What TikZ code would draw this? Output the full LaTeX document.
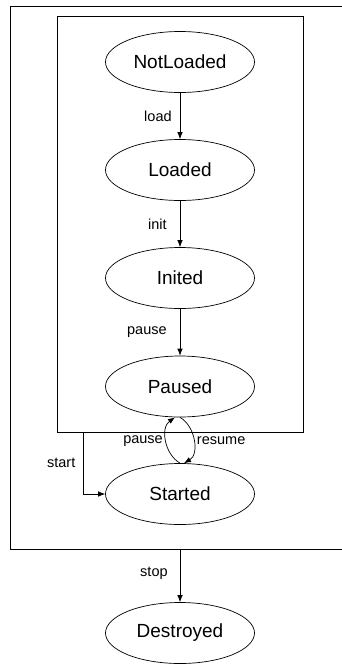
\documentclass[tikz,border=0pt]{standalone}
\usepackage{fontspec}
\setmainfont{Liberation Sans}
\usetikzlibrary{arrows.meta,positioning,shapes.geometric}

\begin{document}
\begin{tikzpicture}[x=1pt,y=1pt,line width=.7pt,
    state/.style={draw,ellipse,minimum width=149pt,minimum height=61pt,inner sep=0pt,font=\fontsize{19}{21}\selectfont},
    frame/.style={draw,rectangle,inner sep=0pt},
    lbl/.style={font=\fontsize{14.5}{16}\selectfont,inner sep=2pt},
    arr/.style={-{Latex[length=7pt,width=5.5pt]}}]
  \useasboundingbox (0,0) rectangle (341,-664);
  \node[frame,minimum width=335pt,minimum height=543pt] (outer) at (178,-277.5) {};
  \node[frame,minimum width=246pt,minimum height=416pt] (inner) at (180,-224) {};
  \node[state] (nl) at (180,-62) {NotLoaded};
  \node[state] (ld) at (180,-170) {Loaded};
  \node[state] (in) at (180,-278) {Inited};
  \node[state] (pa) at (180,-386.5) {Paused};
  \node[state] (st) at (180,-494) {Started};
  \node[state] (de) at (180,-633) {Destroyed};
  \foreach \x/\y/\t/\d in {nl/ld/load/6,ld/in/init/11,in/pa/pause/11}
    \draw[arr] (\x)--node[lbl,left=\d pt] {\t} (\y);
  \draw[arr] (de.north |- outer.south)--node[lbl,left=10pt,pos=.45] {stop} (de);
  \draw[arr] ([xshift=27pt]inner.south west) |- node[lbl,left=6pt,pos=.25] {start} (st.west);
  % pause/resume loop
  \draw[arr] (st.north) to[out=150,in=215] node[lbl,left=1pt] {pause} ([xshift=-5pt]pa.south);
  \draw[arr] (pa.south) to[out=-30,in=30] node[lbl,right=1pt] {resume} ([xshift=4pt]st.north);
\end{tikzpicture}
\end{document}
